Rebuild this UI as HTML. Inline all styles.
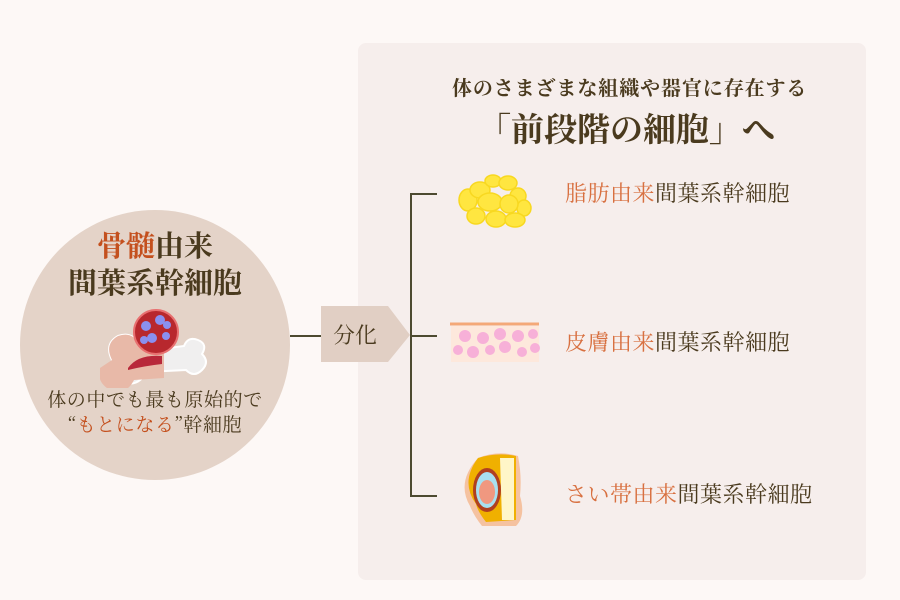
<!DOCTYPE html>
<html><head><meta charset="utf-8"><style>
html,body{margin:0;padding:0}
body{width:900px;height:600px;background:#fdf8f6;position:relative;overflow:hidden;font-family:"Noto Serif CJK JP","Noto Serif CJK SC","Liberation Serif",serif;color:#4a3a1e}
.abs{position:absolute}
.t{white-space:nowrap}
</style></head><body>
<div class="abs" style="left:358px;top:43px;width:508px;height:537px;background:#f6eeec;border-radius:8px"></div>
<div class="abs" style="left:20px;top:210px;width:270px;height:270px;border-radius:50%;background:#e4d3c8"></div>
<div class="abs t" style="left:20px;width:270px;top:226px;text-align:center;font-size:29px;font-weight:bold;line-height:37px">
<span style="color:#c4501e">骨髄</span>由来<br>間葉系幹細胞</div>
<svg class="abs" style="left:100px;top:308px" width="110" height="80">
<path d="M12 52 q-8 -16 6 -24 q12 -4 18 4 l18 10 30 -4 q4 -10 14 -6 q10 4 4 14 q8 8 0 16 q-8 8 -16 0 l-40 2 q-8 16 -24 10 q-14 -8 -10 -22z" fill="#f0efef" stroke="#fff" stroke-width="2"/>
<path d="M12 52 q-8 -16 6 -24 q12 -4 18 4 l18 10 10 0 0 28 -30 2 q-8 16 -24 10 q-14 -8 -10 -22z" fill="#e8b9a8"/>
<path d="M28 60 q10 -14 34 -12 l0 8 q-18 2 -34 6z" fill="#b8283a"/>
<circle cx="56" cy="24" r="22" fill="#b8282e" stroke="#e87070" stroke-width="2"/>
<circle cx="46" cy="18" r="5" fill="#8a90f0"/><circle cx="60" cy="12" r="5" fill="#8a90f0"/><circle cx="52" cy="30" r="5" fill="#8a90f0"/><circle cx="66" cy="28" r="4" fill="#8a90f0"/><circle cx="44" cy="32" r="4" fill="#8a90f0"/><circle cx="67" cy="17" r="4" fill="#8a90f0"/>
</svg>
<div class="abs t" style="left:20px;width:270px;top:386px;text-align:center;font-size:19px;line-height:25px;letter-spacing:0.6px">体の中でも最も原始的で<br>“<span style="color:#c4501e">もとになる</span>”幹細胞</div>
<svg class="abs" style="left:0;top:0" width="900" height="600">
<line x1="290" y1="336" x2="322" y2="336" stroke="#4d4a30" stroke-width="2"/>
<polygon points="321,306 388,306 410,335 388,362 321,362" fill="#e1cfc4"/>
<path d="M437 194 H411 V496 H437 M411 336 H437" fill="none" stroke="#4d4a30" stroke-width="2"/>
<g fill="#ffe640" stroke="#f8d820" stroke-width="1.5">
<ellipse cx="468" cy="200" rx="9" ry="11"/><ellipse cx="480" cy="190" rx="10" ry="8"/><ellipse cx="493" cy="181" rx="8" ry="6"/><ellipse cx="508" cy="183" rx="9" ry="7"/><ellipse cx="518" cy="196" rx="8" ry="8"/><ellipse cx="524" cy="208" rx="7" ry="8"/><ellipse cx="490" cy="202" rx="12" ry="9"/><ellipse cx="509" cy="204" rx="9" ry="9"/><ellipse cx="476" cy="216" rx="9" ry="8"/><ellipse cx="496" cy="219" rx="10" ry="8"/><ellipse cx="515" cy="220" rx="10" ry="7"/>
</g>
<line x1="450" y1="324" x2="539" y2="324" stroke="#f4a878" stroke-width="3"/>
<rect x="451" y="326" width="88" height="36" fill="#fde8dc"/>
<g fill="#f7b0d8"><circle cx="465" cy="336" r="6"/><circle cx="483" cy="338" r="6"/><circle cx="500" cy="334" r="6"/><circle cx="518" cy="336" r="6"/><circle cx="533" cy="334" r="5"/><circle cx="458" cy="350" r="5"/><circle cx="473" cy="352" r="6"/><circle cx="490" cy="350" r="5"/><circle cx="505" cy="347" r="6"/><circle cx="522" cy="352" r="5"/><circle cx="535" cy="348" r="5"/></g>
<path d="M478 458 q20 -8 40 -2 q4 20 2 40 q6 20 -4 30 l-34 0 q-8 -10 -12 -20 q-14 -24 8 -48z" fill="#f5c2a0"/>
<path d="M478 458 q20 -6 38 -2 l0 64 -30 2 q-8 -10 -10 -18 q-16 -22 2 -46z" fill="#f0b000"/>
<path d="M500 458 l14 0 0 62 -12 0z" fill="#fff6c8"/>
<ellipse cx="487" cy="490" rx="14" ry="22" fill="#b04020"/>
<ellipse cx="487" cy="490" rx="11" ry="18" fill="#a8e0f0"/>
<ellipse cx="487" cy="492" rx="8" ry="12" fill="#f09880"/>
</svg>
<div class="abs t" style="left:452px;top:74px;font-size:20px;font-weight:bold;line-height:26px;letter-spacing:0.9px">体のさまざまな組織や器官に存在する</div>
<div class="abs t" style="left:478px;top:108px;font-size:33px;font-weight:bold;line-height:40px">「前段階の細胞」へ</div>
<div class="abs t" style="left:565px;top:178px;font-size:22px;line-height:30px;letter-spacing:0.5px"><span style="color:#d87040">脂肪由来</span>間葉系幹細胞</div>
<div class="abs t" style="left:565px;top:327px;font-size:22px;line-height:30px;letter-spacing:0.5px"><span style="color:#d87040">皮膚由来</span>間葉系幹細胞</div>
<div class="abs t" style="left:565px;top:479px;font-size:22px;line-height:30px;letter-spacing:0.5px"><span style="color:#d87040">さい帯由来</span>間葉系幹細胞</div>
<div class="abs t" style="left:333px;top:320px;font-size:22px;line-height:30px">分化</div>
</body></html>
